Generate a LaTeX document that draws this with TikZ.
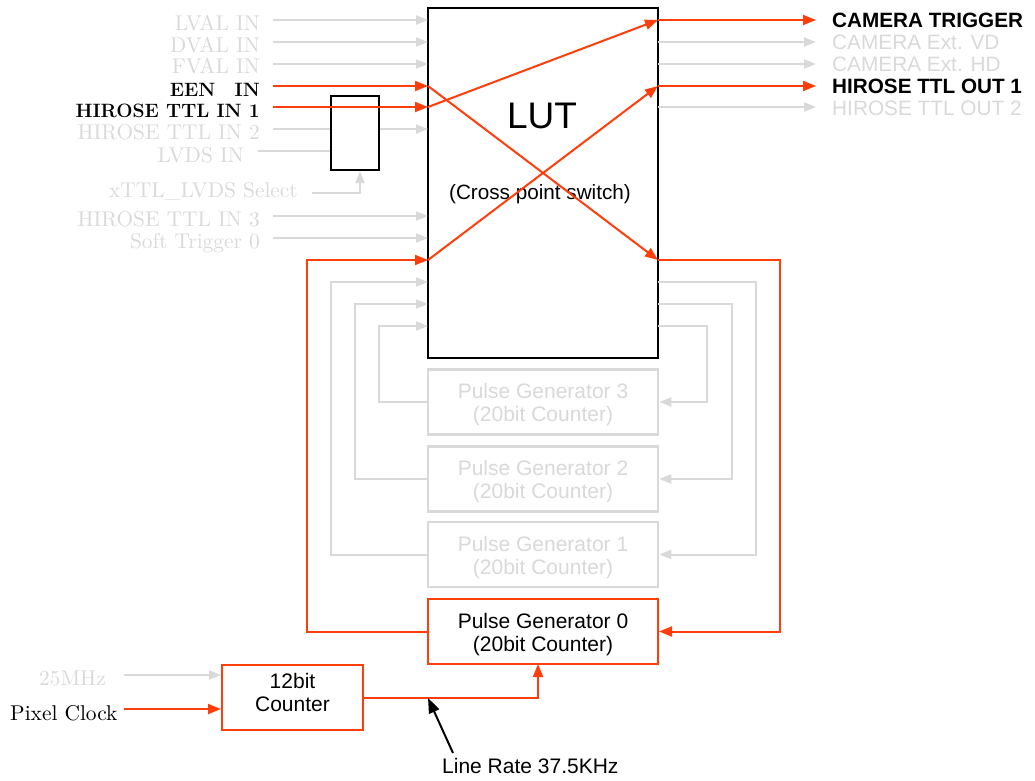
\documentclass[tikz,border=0pt]{standalone}
\usepackage{fontspec}
\newfontfamily\arial{Liberation Sans}
\newfontfamily\serifx{lmroman10-regular.otf}
\usetikzlibrary{arrows.meta}
\definecolor{hot}{RGB}{255,62,12}
\definecolor{pale}{RGB}{217,217,217}
\begin{document}
\begin{tikzpicture}[x=1pt,y=-1pt,
  gline/.style={draw=pale, line width=2pt},
  rline/.style={draw=hot, line width=2pt},
  garr/.style={gline, -{Triangle[length=12pt,width=9pt]}},
  rarr/.style={rline, -{Triangle[length=13pt,width=10pt]}},
  karr/.style={draw=black, line width=2pt, -{Triangle[length=15pt,width=11pt]}},
  serifl/.style={inner sep=0pt, anchor=base east, font=\serifx\fontsize{21.4}{24}\selectfont},
  serifb/.style={inner sep=0pt, anchor=base east, font=\bfseries\fontsize{19.3}{24}\selectfont},
  sansr/.style={inner sep=0pt, anchor=base west, font=\arial\fontsize{20.8}{24}\selectfont},
  sansb/.style={inner sep=0pt, anchor=base west, font=\arial\bfseries\fontsize{20.7}{24}\selectfont},
  boxtxt/.style={inner sep=0pt, align=center, font=\arial\fontsize{21}{23}\selectfont},
  pgbox/.style={draw=pale, line width=2.5pt, fill=white, minimum width=230pt, minimum height=65pt, inner sep=0pt},
  pgred/.style={draw=hot, line width=2pt, fill=white, minimum width=230pt, minimum height=65pt, inner sep=0pt},
  lutbox/.style={draw=black, line width=2pt, fill=white, minimum width=230pt, minimum height=350pt, inner sep=0pt},
  muxbox/.style={draw=black, line width=2pt, fill=white, minimum width=48pt, minimum height=74pt, inner sep=0pt}
]
\useasboundingbox (0,0) rectangle (1035,780);

% main boxes
\node[lutbox] (lut) at (543,183) {};
\node[inner sep=0pt, font=\arial\fontsize{37}{40}\selectfont] (lutT) at (542,116) {LUT};
\node[inner sep=0pt, font=\arial\fontsize{20.7}{24}\selectfont] (cps) at (540,194.5) {(Cross point switch)};
\node[muxbox] (mux) at (355,133) {};

\node[pgbox] (pg3) at (543,402) {};
\node[pgbox] (pg2) at (543,479) {};
\node[pgbox] (pg1) at (543,554.5) {};
\node[pgred] (pg0) at (543,631.5) {};
\node[boxtxt, text=pale] (pg3T) at (543,405) {Pulse Generator 3\\(20bit Counter)};
\node[boxtxt, text=pale] (pg2T) at (543,482) {Pulse Generator 2\\(20bit Counter)};
\node[boxtxt, text=pale] (pg1T) at (543,557.5) {Pulse Generator 1\\(20bit Counter)};
\node[boxtxt] (pg0T) at (543,635) {Pulse Generator 0\\(20bit Counter)};
\node[draw=hot, line width=2pt, fill=white, minimum width=141pt, minimum height=65pt, inner sep=0pt] (cnt) at (292.5,697.5) {};
\node[boxtxt] (cntT) at (292.5,692) {12bit\\Counter};

% ports
\foreach \y in {20,42,64,86,107,129,216,238,260,282,304,326} {\coordinate (L\y) at (428,\y);}
\foreach \y in {20,42,64,86,107,260,282,304,326} {\coordinate (R\y) at (658,\y);}
\foreach \y in {20,42,64,86,107,129,216,238} {\coordinate (S\y) at (273,\y);}
\foreach \y in {20,42,64,86,107} {\coordinate (T\y) at (816,\y);}
\coordinate (SLV) at (258,151);
\coordinate (SSel) at (312,193);
\coordinate (S25) at (124,675);
\coordinate (Spc) at (124,709);
\coordinate (P0in) at (538,664);
\coordinate (lrtail) at (453,753);
\coordinate (lrtip) at (428,698);

% left labels
\node[serifl, text=pale] (tLVAL) at (260,30) {LVAL IN};
\node[serifl, text=pale] (tDVAL) at (260,52) {DVAL IN};
\node[serifl, text=pale] (tFVAL) at (260,73.5) {FVAL IN};
\node[serifb] (tEEN) at (260,96) {EEN\hspace{1em}IN};
\node[serifb] (tH1) at (260,117) {HIROSE TTL IN 1};
\node[serifl, text=pale] (tH2) at (260,139) {HIROSE TTL IN 2};
\node[serifl, text=pale] (tLVDS) at (244,162) {LVDS IN};
\node[serifl, text=pale] (tSel) at (298,197) {xTTL\_LVDS Select};
\node[serifl, text=pale] (tH3) at (260,226) {HIROSE TTL IN 3};
\node[serifl, text=pale] (tSoft) at (260,248) {Soft Trigger 0};
\node[serifl, text=pale, anchor=base west] (t25) at (39,685) {25MHz};
\node[serifl, anchor=base west] (tPC) at (10,720) {Pixel Clock};

% right labels
\node[sansb] (oCT) at (832,27) {CAMERA TRIGGER};
\node[sansr, text=pale] (oVD) at (832,49) {CAMERA Ext. VD};
\node[sansr, text=pale] (oHD) at (832,71) {CAMERA Ext. HD};
\node[sansb] (oH1) at (832,93) {HIROSE TTL OUT 1};
\node[sansr, text=pale] (oH2) at (832,115) {HIROSE TTL OUT 2};

\node[boxtxt, anchor=base west] (lr) at (442,773) {Line Rate 37.5KHz};

% grey inputs
\foreach \y in {20,42,64,216,238} {\draw[garr] (S\y) -- (L\y);}
\draw[gline] (S129) -- (mux.west |- S129);
\draw[garr] (mux.east |- S129) -- (L129);
\draw[gline] (SLV) -- (mux.west |- SLV);
\draw[garr] (SSel) -| ([xshift=5pt]mux.south);

% grey outputs
\foreach \y in {42,64,107} {\draw[garr] (R\y) -- (T\y);}

% grey loops
\draw[garr] (R282) -- (756,282) |- (pg1.east);
\draw[garr] (R304) -- (732,304) |- (pg2.east);
\draw[garr] (R326) -- (707,326) |- (pg3.east);
\draw[garr] (pg1.west) -| (331,282) -- (L282);
\draw[garr] (pg2.west) -| (355,304) -- (L304);
\draw[garr] (pg3.west) -| (379,326) -- (L326);

% red paths
\draw[rarr] (S86) -- (L86);
\draw[rarr] (S107) -- (L107);
\draw[rarr] (L86) -- (R260);
\draw[rarr] (L107) -- (R20);
\draw[rarr] (L260) -- (R86);
\draw[rarr] (R20) -- (T20);
\draw[rarr] (R86) -- (T86);
\draw[rarr] (R260) -- (780,260) |- (pg0.east);
\draw[rarr] (pg0.west) -| (307,260) -- (L260);

% counter
\draw[garr] (S25) -- (cnt.west |- S25);
\draw[rarr] (Spc) -- (cnt.west |- Spc);
\draw[rarr] (cnt.east) -| (P0in);
\draw[karr] (lrtail) -- (lrtip);
\end{tikzpicture}
\end{document}
